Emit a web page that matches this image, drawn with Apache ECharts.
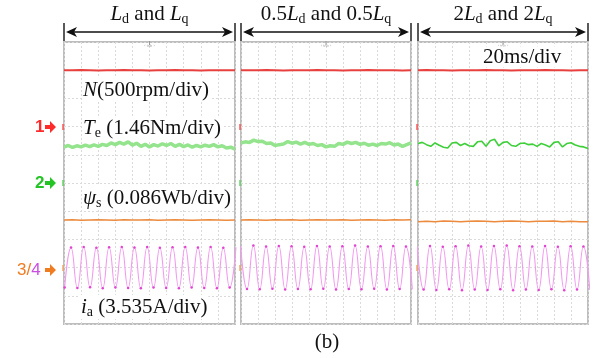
<!DOCTYPE html>
<html>
<head>
<meta charset="utf-8">
<script src="https://cdn.jsdelivr.net/npm/echarts@6/dist/echarts.min.js"></script>
<style>
  html, body { margin: 0; background: #fff; }
  #chart { width: 600px; height: 358px; }
</style>
</head>
<body>
<div id="chart"></div>
<script>
// panel layout (px)
const panelLeft = [64, 241, 418];
const panelWidth = [171, 170, 170];
const panelTop = 42;
const panelHeight = 282;

const panelTitles = [
  '{i|L}{s|d}{n| and }{i|L}{s|q}',
  '{n|0.5}{i|L}{s|d}{n| and 0.5}{i|L}{s|q}',
  '{n|2}{i|L}{s|d}{n| and 2}{i|L}{s|q}'
];

// all levels in scope divisions (0 = bottom, 10 = top)
// N, sampled every 0.5 div
const speedStep = 0.5;
const speed = [
  [9.0, 9.0, 9.01, 9.0, 8.99, 9.0, 9.0, 9.01, 9.0, 9.0, 8.99, 9.0, 9.0, 9.01, 9.0, 9.0, 8.99, 9.0, 9.0, 9.0, 9.0],
  [9.0, 9.0, 9.0, 9.01, 9.0, 8.99, 9.0, 9.0, 9.0, 9.01, 9.0, 9.0, 8.99, 9.0, 9.0, 9.01, 9.0, 9.0, 9.0, 8.99, 9.0],
  [9.0, 9.01, 9.0, 9.0, 8.99, 9.0, 9.0, 9.0, 9.01, 9.0, 9.0, 8.99, 9.0, 9.0, 9.0, 9.01, 9.0, 9.0, 8.99, 9.0, 9.0]
];

// Te, sampled every 0.25 div
const torqueStep = 0.25;
const torque = [
  [6.27, 6.33, 6.26, 6.32, 6.28, 6.34, 6.29, 6.35, 6.30, 6.37, 6.33, 6.42, 6.36, 6.44, 6.38, 6.46, 6.34, 6.41, 6.30, 6.37, 6.28,
   6.36, 6.31, 6.39, 6.33, 6.40, 6.30, 6.37, 6.29, 6.35, 6.27, 6.33, 6.28, 6.34, 6.30, 6.36, 6.28, 6.32, 6.24, 6.27, 6.20],
  [6.42, 6.46, 6.44, 6.52, 6.47, 6.48, 6.40, 6.42, 6.33, 6.36, 6.38, 6.47, 6.41, 6.45, 6.38, 6.44, 6.37, 6.40, 6.33, 6.36, 6.28,
   6.32, 6.30, 6.40, 6.37, 6.45, 6.40, 6.44, 6.37, 6.41, 6.34, 6.38, 6.33, 6.40, 6.38, 6.43, 6.35, 6.38, 6.30, 6.36, 6.42],
  [6.40, 6.44, 6.36, 6.30, 6.42, 6.34, 6.27, 6.24, 6.42, 6.44, 6.33, 6.40, 6.32, 6.30, 6.46, 6.48, 6.30, 6.50, 6.55, 6.32, 6.44,
   6.46, 6.33, 6.30, 6.40, 6.42, 6.36, 6.38, 6.30, 6.40, 6.35, 6.28, 6.44, 6.46, 6.28, 6.40, 6.43, 6.35, 6.30, 6.28, 6.22]
];

// psi_s, sampled every 0.5 div
const fluxStep = 0.5;
const flux = [
  [3.69, 3.70, 3.68, 3.69, 3.70, 3.69, 3.68, 3.70, 3.69, 3.69, 3.70, 3.68, 3.69, 3.70, 3.69, 3.68, 3.69, 3.70, 3.69, 3.68, 3.69],
  [3.69, 3.70, 3.69, 3.68, 3.70, 3.69, 3.70, 3.68, 3.69, 3.70, 3.69, 3.69, 3.70, 3.68, 3.69, 3.70, 3.69, 3.68, 3.70, 3.69, 3.70],
  [3.63, 3.64, 3.63, 3.65, 3.64, 3.63, 3.64, 3.65, 3.64, 3.63, 3.64, 3.65, 3.64, 3.63, 3.64, 3.64, 3.65, 3.63, 3.64, 3.63, 3.63]
];

// i_a: successive peaks / troughs, first extremum time and half period (div)
const currentStart = [0.04, -0.02, -0.046];
const currentHalfPeriod = [0.371, 0.374, 0.376];
const current = [
  [1.29, 2.71, 1.28, 2.73, 1.30, 2.70, 1.27, 2.72, 1.29, 2.73, 1.28, 2.71, 1.27, 2.73, 1.29, 2.70, 1.28, 2.72, 1.27, 2.73,
   1.29, 2.71, 1.28, 2.73, 1.27, 2.70, 1.29, 2.72],
  [2.76, 1.24, 2.78, 1.23, 2.75, 1.25, 2.77, 1.22, 2.76, 1.24, 2.74, 1.23, 2.77, 1.25, 2.75, 1.22, 2.76, 1.24, 2.78, 1.23,
   2.75, 1.25, 2.76, 1.22, 2.77, 1.24, 2.75, 1.23],
  [2.75, 1.22, 2.77, 1.21, 2.74, 1.23, 2.76, 1.20, 2.78, 1.22, 2.75, 1.21, 2.77, 1.23, 2.78, 1.20, 2.76, 1.22, 2.75, 1.21,
   2.77, 1.23, 2.74, 1.20, 2.76, 1.22, 2.75, 1.21]
];

const serif = '"Liberation Serif", "Times New Roman", serif';
const sans = '"Liberation Sans", Arial, sans-serif';

const chart = echarts.init(document.getElementById('chart'));

const sampled = (vals, step) => vals.map((v, k) => [k * step, v]);

const grids = [], xAxes = [], yAxes = [], series = [];
const divAxis = (p) => ({
  gridIndex: p, type: 'value', min: 0, max: 10, interval: 1,
  axisLine: { show: false }, axisTick: { show: false }, axisLabel: { show: false },
  splitLine: { show: true, lineStyle: { color: '#dadada', type: [2, 2], width: 1 } }
});

panelLeft.forEach((left, p) => {
  grids.push({ left: left, top: panelTop, width: panelWidth[p], height: panelHeight,
    show: true, borderColor: '#bdbdbd', borderWidth: 2 });
  xAxes.push(divAxis(p));
  yAxes.push(divAxis(p));
  const base = { type: 'line', xAxisIndex: p, yAxisIndex: p, silent: true, animation: false, showSymbol: false };
  series.push(Object.assign({}, base, {
    data: sampled(speed[p], speedStep),
    lineStyle: { color: '#e8403f', width: 2 }
  }));
  series.push(Object.assign({}, base, {
    data: sampled(torque[p], torqueStep),
    lineStyle: p === 2 ? { color: '#3fcf3a', width: 1.6 } : { color: '#93e48c', width: 3.5 }
  }));
  series.push(Object.assign({}, base, {
    data: sampled(flux[p], fluxStep),
    lineStyle: { color: '#ec8a3e', width: 1.5 }
  }));
  series.push(Object.assign({}, base, {
    data: current[p].map((v, k) => [currentStart[p] + k * currentHalfPeriod[p], v]),
    smooth: 0.5,
    showSymbol: true, symbol: 'circle', symbolSize: 2.5,
    itemStyle: { color: '#e045d0' },
    lineStyle: { color: '#f39af0', width: 1.1 }
  }));
});

// annotations
const graphics = [];
const txt = (x, y, text, opts) => ({
  type: 'text', x: x, y: y, z: 100, silent: true,
  style: Object.assign({
    text: text, fill: '#111', font: '21px ' + serif,
    align: 'left', textAlign: 'left', verticalAlign: 'middle', textVerticalAlign: 'middle'
  }, opts || {})
});
const rich = {
  i: { fontFamily: serif, fontStyle: 'italic', fontSize: 21, lineHeight: 24, fill: '#111' },
  n: { fontFamily: serif, fontSize: 21, lineHeight: 24, fill: '#111' },
  s: { fontFamily: serif, fontSize: 14, lineHeight: 15, verticalAlign: 'bottom', fill: '#111' }
};

panelLeft.forEach((left, p) => {
  const right = left + panelWidth[p];
  const cx = left + panelWidth[p] / 2;
  graphics.push(txt(cx, 14, panelTitles[p], { align: 'center', textAlign: 'center', rich: rich }));
  // double arrow
  const ay = 32;
  graphics.push({ type: 'line', z: 100, silent: true, shape: { x1: left, y1: 23, x2: left, y2: 41 }, style: { stroke: '#222', lineWidth: 1.5 } });
  graphics.push({ type: 'line', z: 100, silent: true, shape: { x1: right, y1: 23, x2: right, y2: 41 }, style: { stroke: '#222', lineWidth: 1.5 } });
  graphics.push({ type: 'line', z: 100, silent: true, shape: { x1: left + 6, y1: ay, x2: right - 6, y2: ay }, style: { stroke: '#111', lineWidth: 1.6 } });
  graphics.push({ type: 'polygon', z: 100, silent: true, shape: { points: [[left + 2, ay], [left + 13, ay - 5], [left + 10, ay], [left + 13, ay + 5]] }, style: { fill: '#111' } });
  graphics.push({ type: 'polygon', z: 100, silent: true, shape: { points: [[right - 2, ay], [right - 13, ay - 5], [right - 10, ay], [right - 13, ay + 5]] }, style: { fill: '#111' } });
  // little trigger mark at the top centre
  graphics.push({ type: 'line', z: 100, silent: true, shape: { x1: cx, y1: 41, x2: cx, y2: 45 }, style: { stroke: '#999', lineWidth: 1 } });
  graphics.push(txt(cx, 46, '‹ tnb ›', { align: 'center', textAlign: 'center', font: '4px ' + sans, fill: '#aaa' }));
});

const labelBg = { backgroundColor: '#fff', padding: [0, 1, 0, 1] };
graphics.push(txt(482, 57, '20ms/div', labelBg));
graphics.push(txt(82, 90, '{i|N}{n|(500rpm/div)}', Object.assign({ rich: rich }, labelBg)));
graphics.push(txt(82, 128, '{i|T}{s|e}{n| (1.46Nm/div)}', Object.assign({ rich: rich }, labelBg)));
graphics.push(txt(82, 198, '{i|ψ}{s|s}{n| (0.086Wb/div)}', Object.assign({ rich: rich }, labelBg)));
graphics.push(txt(80, 307, '{i|i}{s|a}{n| (3.535A/div)}', Object.assign({ rich: rich }, labelBg)));
graphics.push(txt(327, 342, '(b)', { align: 'center', textAlign: 'center' }));

// channel markers on the left
const chArrow = (x, y, color) => ({
  type: 'polygon', z: 100, silent: true,
  shape: { points: [[x, y - 2], [x + 5, y - 2], [x + 5, y - 6], [x + 11, y], [x + 5, y + 6], [x + 5, y + 2], [x, y + 2]] },
  style: { fill: color }
});
const edgeMark = (x, y, color) => ({
  type: 'rect', z: 100, silent: true, shape: { x: x - 1, y: y - 3, width: 2, height: 6 }, style: { fill: color, opacity: 0.7 }
});
graphics.push(txt(35, 127, '1', { fill: '#ff2b2b', font: 'bold 17px ' + sans }));
graphics.push(chArrow(45, 127, '#ff2b2b'));
graphics.push(txt(35, 183, '2', { fill: '#25c425', font: 'bold 17px ' + sans }));
graphics.push(chArrow(45, 183, '#25c425'));
graphics.push(txt(17, 270, '{o|3/}{m|4}', { rich: {
  o: { fontFamily: sans, fontSize: 17, fill: '#f07c22' },
  m: { fontFamily: sans, fontSize: 17, fill: '#c94fe0' } } }));
graphics.push(chArrow(45, 270, '#f07c22'));
panelLeft.forEach((left) => {
  graphics.push(edgeMark(left - 1, 127, '#ff4a4a'));
  graphics.push(edgeMark(left - 1, 183, '#5ad45a'));
  graphics.push(edgeMark(left - 1, 268, '#f0a060'));
});

chart.setOption({
  backgroundColor: '#fff',
  animation: false,
  grid: grids,
  xAxis: xAxes,
  yAxis: yAxes,
  series: series,
  graphic: { elements: graphics }
});
</script>
</body>
</html>
